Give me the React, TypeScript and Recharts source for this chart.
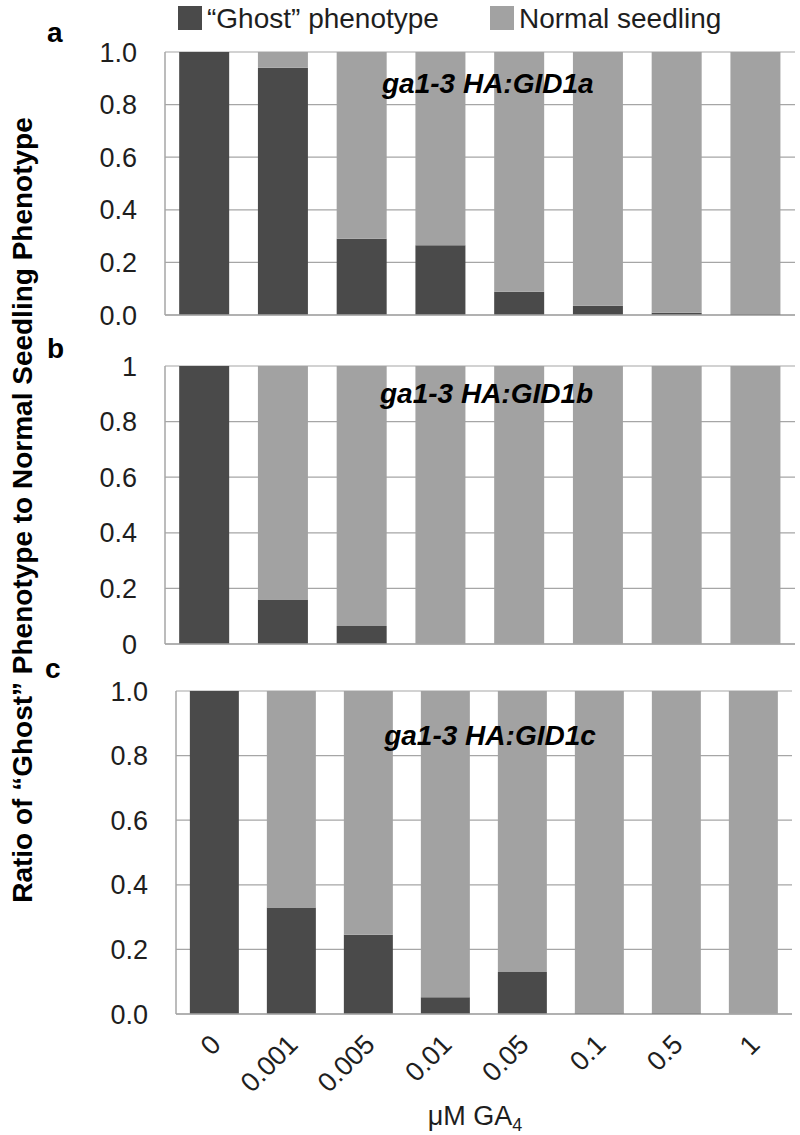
import React from 'react';
import { BarChart, Bar, XAxis, YAxis, CartesianGrid } from 'recharts';

const doses = ['0', '0.001', '0.005', '0.01', '0.05', '0.1', '0.5', '1'];
const ghostA = [1, 0.94, 0.29, 0.265, 0.088, 0.035, 0.009, 0.004];
const normalA = [0, 0.06, 0.71, 0.735, 0.912, 0.965, 0.991, 0.996];
const ghostB = [1, 0.16, 0.065, 0, 0, 0, 0, 0];
const normalB = [0, 0.84, 0.935, 1, 1, 1, 1, 1];
const ghostC = [1, 0.33, 0.245, 0.052, 0.13, 0.005, 0.005, 0];
const normalC = [0, 0.67, 0.755, 0.948, 0.87, 0.995, 0.995, 1];
const yTicks = [0, 0.2, 0.4, 0.6, 0.8, 1];
const panelTitles = ['ga1-3 HA:GID1a', 'ga1-3 HA:GID1b', 'ga1-3 HA:GID1c'];
const panelLetters = ['a', 'b', 'c'];
const seriesNames = ['\u201CGhost\u201D phenotype', 'Normal seedling'];
const yTitle = 'Ratio of \u201CGhost\u201D Phenotype to Normal Seedling Phenotype';

const DARK = '#4a4a4a';
const LIGHT = '#a2a2a2';
const GRID = '#a6a6a6';
const TEXT = '#1e1e1e';
const FONT = '"Liberation Sans", Arial, Helvetica, sans-serif';

const build = (g: number[], n: number[]) =>
  doses.map((d, i) => ({ dose: d, ghost: g[i], normal: n[i] }));

const dataA = build(ghostA, normalA);
const dataB = build(ghostB, normalB);
const dataC = build(ghostC, normalC);

const XTick = (props: any) => {
  const { x, y, payload } = props;
  const px = x + 8;
  const py = y + 32;
  return (
    <text
      x={px}
      y={py}
      transform={`rotate(-45 ${px} ${py})`}
      textAnchor="end"
      fontSize={27}
      fill={TEXT}
      fontFamily={FONT}
    >
      {payload.value}
    </text>
  );
};

type PanelProps = {
  data: any[];
  top: number;
  height: number;
  margin: { top: number; right: number; bottom: number; left: number };
  yWidth: number;
  xHeight: number;
  fmt: (v: number) => string;
  showTicks?: boolean;
};

const Panel = ({ data, top, height, margin, yWidth, xHeight, fmt, showTicks }: PanelProps) => (
  <div style={{ position: 'absolute', left: 0, top, width: 800, height }}>
    <BarChart width={800} height={height} data={data} margin={margin} barCategoryGap="18%">
      <CartesianGrid vertical={false} stroke={GRID} strokeWidth={1.2} />
      <XAxis
        dataKey="dose"
        height={xHeight}
        axisLine={{ stroke: GRID, strokeWidth: 1.5 }}
        tickLine={false}
        tickSize={0}
        tickMargin={0}
        interval={0}
        tick={showTicks ? <XTick /> : false}
      />
      <YAxis
        width={yWidth}
        domain={[0, 1]}
        ticks={yTicks}
        interval={0}
        axisLine={{ stroke: GRID, strokeWidth: 1.5 }}
        tickLine={false}
        tickSize={0}
        tickMargin={28}
        tickFormatter={fmt}
        tick={{ fontSize: 27, fill: TEXT, fontFamily: FONT }}
      />
      <Bar dataKey="ghost" stackId="s" fill={DARK} isAnimationActive={false} />
      <Bar dataKey="normal" stackId="s" fill={LIGHT} isAnimationActive={false} />
    </BarChart>
  </div>
);

export default function App() {
  return (
    <div
      style={{
        position: 'absolute',
        left: 0,
        top: 0,
        width: 800,
        height: 1135,
        background: '#fff',
        fontFamily: FONT,
        overflow: 'hidden',
      }}
    >
      <Panel
        data={dataA}
        top={0}
        height={330}
        margin={{ top: 52, right: 5, bottom: 14, left: 0 }}
        yWidth={165}
        xHeight={1}
        fmt={(v) => v.toFixed(1)}
      />
      <Panel
        data={dataB}
        top={340}
        height={320}
        margin={{ top: 26, right: 5, bottom: 15, left: 0 }}
        yWidth={165}
        xHeight={1}
        fmt={(v) => String(v)}
      />
      <Panel
        data={dataC}
        top={670}
        height={465}
        margin={{ top: 21, right: 8, bottom: 0, left: 0 }}
        yWidth={176}
        xHeight={121}
        fmt={(v) => v.toFixed(1)}
        showTicks
      />
      <svg
        width={800}
        height={1135}
        style={{ position: 'absolute', left: 0, top: 0, pointerEvents: 'none' }}
        fontFamily={FONT}
      >
        <rect x={178} y={6} width={24} height={24} fill={DARK} />
        <text x={207} y={28} fontSize={28} fill={TEXT}>{seriesNames[0]}</text>
        <rect x={490} y={6} width={24} height={24} fill={LIGHT} />
        <text x={519} y={28} fontSize={28} fill={TEXT}>{seriesNames[1]}</text>

        <text x={47} y={42} fontSize={28} fontWeight="bold" fill="#000">{panelLetters[0]}</text>
        <text x={47} y={358} fontSize={28} fontWeight="bold" fill="#000">{panelLetters[1]}</text>
        <text x={45} y={678} fontSize={28} fontWeight="bold" fill="#000">{panelLetters[2]}</text>

        <text x={382} y={93} fontSize={28} fontWeight="bold" fontStyle="italic" fill="#000">{panelTitles[0]}</text>
        <text x={380} y={403} fontSize={28} fontWeight="bold" fontStyle="italic" fill="#000">{panelTitles[1]}</text>
        <text x={490} y={745} fontSize={28} fontWeight="bold" fontStyle="italic" fill="#000" textAnchor="middle">{panelTitles[2]}</text>

        <text
          x={22}
          y={510}
          fontSize={28}
          fontWeight="bold"
          fill="#000"
          textAnchor="middle"
          dominantBaseline="central"
          transform="rotate(-90 22 510)"
        >
          {yTitle}
        </text>

        <text x={475} y={1125} fontSize={27} fill={TEXT} textAnchor="middle">
          μM GA<tspan fontSize={18} dy={6}>4</tspan>
        </text>
      </svg>
    </div>
  );
}
